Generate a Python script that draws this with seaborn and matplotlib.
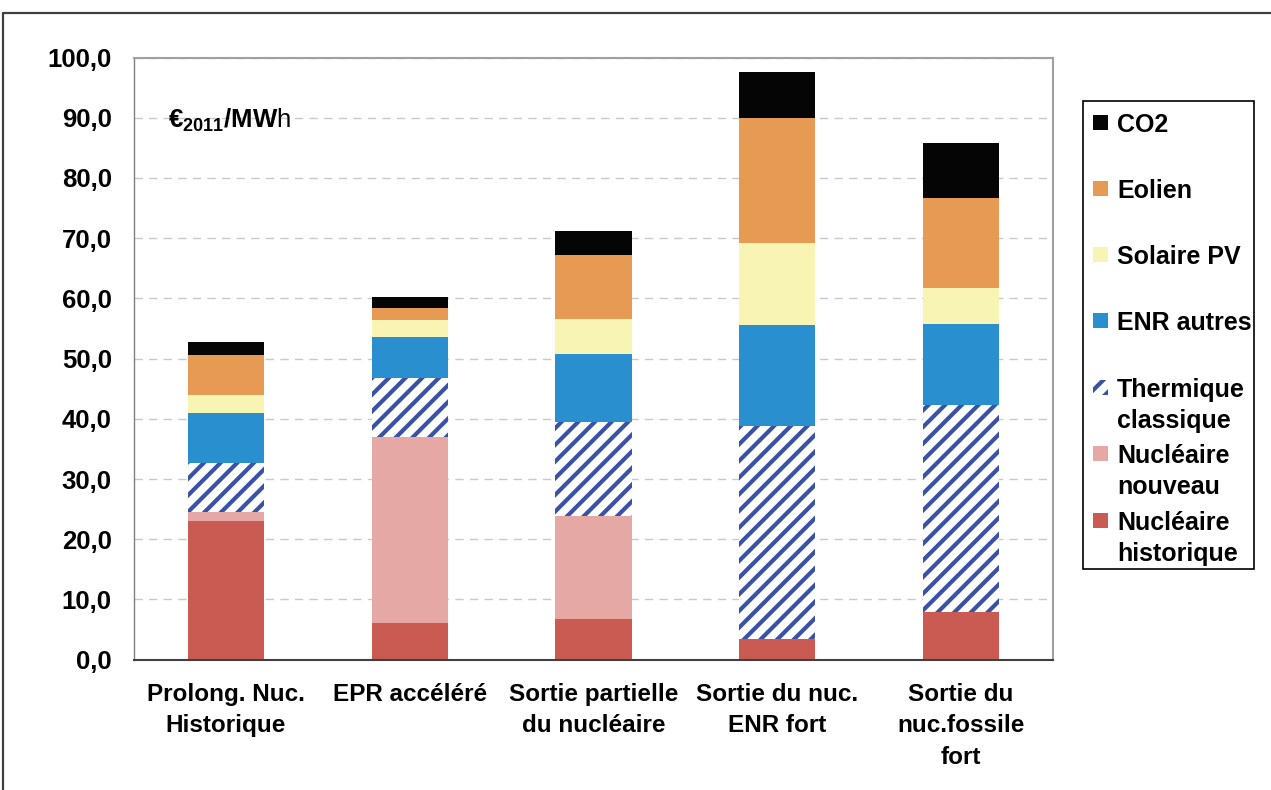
import numpy as np
import pandas as pd
import matplotlib
matplotlib.use("Agg")
import matplotlib.pyplot as plt
import seaborn as sns
from matplotlib.patches import Rectangle
from matplotlib.lines import Line2D
from matplotlib.ticker import FuncFormatter, MultipleLocator, FixedLocator

# ---- data (€2011/MWh) ----
scenarios = [
    "Prolong. Nuc.\nHistorique",
    "EPR accéléré",
    "Sortie partielle\ndu nucléaire",
    "Sortie du nuc.\nENR fort",
    "Sortie du\nnuc.fossile\nfort",
]
nucleaire_historique = [23.1, 6.1, 6.7, 3.4, 7.9]
nucleaire_nouveau = [1.5, 30.8, 17.1, 0.0, 0.0]
thermique_classique = [8.1, 9.9, 15.6, 35.4, 34.4]
enr_autres = [8.3, 6.8, 11.4, 16.8, 13.4]
solaire_pv = [3.0, 2.8, 5.7, 13.6, 6.1]
eolien = [6.6, 2.0, 10.7, 20.8, 14.9]
co2 = [2.1, 1.9, 4.0, 7.6, 9.1]

layer_names = ["Nucléaire\nhistorique", "Nucléaire\nnouveau", "Thermique\nclassique",
               "ENR autres", "Solaire PV", "Eolien", "CO2"]
layer_values = [nucleaire_historique, nucleaire_nouveau, thermique_classique,
                enr_autres, solaire_pv, eolien, co2]
layer_colors = ["#C95B52", "#E5A8A5", "#FFFFFF", "#2A8FCF", "#F8F5B4", "#E79A53", "#050505"]
layer_hatch = [None, None, "//", None, None, None, None]
hatch_blue = "#3A52A6"

# long-form table with stacking offsets
rows = []
for name, vals in zip(layer_names, layer_values):
    for sc, v in zip(scenarios, vals):
        rows.append({"scenario": sc, "layer": name, "value": v})
df = pd.DataFrame(rows)
df["bottom"] = df.groupby("scenario", sort=False)["value"].cumsum() - df["value"]

W, H = 1271, 790
sns.set_theme(style="white")
plt.rcParams["font.family"] = ["Liberation Sans", "DejaVu Sans"]
plt.rcParams["mathtext.fontset"] = "custom"
plt.rcParams["mathtext.rm"] = "Liberation Sans"
plt.rcParams["mathtext.bf"] = "Liberation Sans:bold"
plt.rcParams["hatch.linewidth"] = 3.0
plt.rcParams["hatch.color"] = hatch_blue

fig = plt.figure(figsize=(W / 100, H / 100), dpi=100)
fig.patch.set_facecolor("white")

def fx(px):
    return px / W

def fy(py):
    return 1 - py / H

ax_left, ax_right, ax_top, ax_bot = 134, 1053, 57.5, 659.7
ax = fig.add_axes([fx(ax_left), fy(ax_bot), fx(ax_right) - fx(ax_left), (ax_bot - ax_top) / H])

for name, color, hatch in zip(layer_names, layer_colors, layer_hatch):
    sub = df[df["layer"] == name]
    kws = dict(edgecolor=hatch_blue if hatch else color, linewidth=0)
    if hatch:
        kws["hatch"] = hatch
    sns.barplot(data=sub, x="scenario", y="value", order=scenarios,
                bottom=sub["bottom"].to_numpy(), color=color, saturation=1,
                width=0.415, errorbar=None, ax=ax, **kws)

ax.set_xlim(-0.5, len(scenarios) - 0.5)
ax.set_ylim(0, 100)
ax.set_xlabel("")
ax.set_ylabel("")

# axes styling
ax.set_axisbelow(True)
ax.yaxis.set_major_locator(MultipleLocator(10))
ax.yaxis.set_major_formatter(FuncFormatter(lambda v, p: f"{v:.1f}".replace(".", ",")))
ax.yaxis.grid(True, color="#C9C9C9", linestyle=(0, (6, 4.5)), linewidth=1.0)
ax.xaxis.grid(False)

for side in ["top", "right"]:
    ax.spines[side].set_color("#A0A0A0")
    ax.spines[side].set_linewidth(1.5)
ax.spines["left"].set_color("#808080")
ax.spines["left"].set_linewidth(1.0)
ax.spines["bottom"].set_color("#404040")
ax.spines["bottom"].set_linewidth(1.5)

ax.tick_params(axis="y", which="major", direction="out", length=6, width=1,
               color="#808080", pad=10, labelsize=18.5, labelcolor="black")
ax.tick_params(axis="x", which="major", length=0, pad=17, labelsize=17.5, labelcolor="black")
ax.xaxis.set_minor_locator(FixedLocator(np.arange(-0.5, len(scenarios), 1.0)))
ax.tick_params(axis="x", which="minor", direction="out", length=7, width=1.2, color="#404040")
for lab in ax.get_yticklabels():
    lab.set_fontweight("bold")
for lab in ax.get_xticklabels():
    lab.set_fontweight("bold")
    lab.set_multialignment("center")
    lab.set_linespacing(1.45)

# unit label
ax.text(0.0365, 0.895, r"$\mathbf{€}_{\mathbf{2011}}\mathbf{/MW}\mathrm{h}$",
        transform=ax.transAxes, fontsize=18.5, ha="left", va="center", color="black")

# legend box
lg_l, lg_r, lg_t, lg_b = 1083, 1254, 101, 569
fig.add_artist(Rectangle((fx(lg_l), fy(lg_b)), fx(lg_r) - fx(lg_l), (lg_b - lg_t) / H,
                         transform=fig.transFigure, fill=False, edgecolor="black", linewidth=1.2))
entry_y = [122, 188, 254, 320, 387, 453, 520]
order_top_down = list(range(len(layer_names)))[::-1]
sq = 15
for yy, idx in zip(entry_y, order_top_down):
    hatch = layer_hatch[idx]
    fig.add_artist(Rectangle((fx(1093), fy(yy + sq / 2)), sq / W, sq / H,
                             transform=fig.transFigure, facecolor=layer_colors[idx],
                             edgecolor=hatch_blue if hatch else layer_colors[idx],
                             linewidth=0, hatch=hatch))
    fig.text(fx(1117), fy(yy - 9), layer_names[idx], ha="left", va="top",
             fontsize=18, fontweight="bold", color="black", linespacing=1.35)

# outer frame lines
fig.add_artist(Line2D([fx(3), 1.0], [fy(13), fy(13)], transform=fig.transFigure,
                      color="#404040", linewidth=1.6))
fig.add_artist(Line2D([fx(3), fx(3)], [fy(13), 0.0], transform=fig.transFigure,
                      color="#404040", linewidth=1.6))

fig.savefig("out.png", dpi=100, facecolor="white")
